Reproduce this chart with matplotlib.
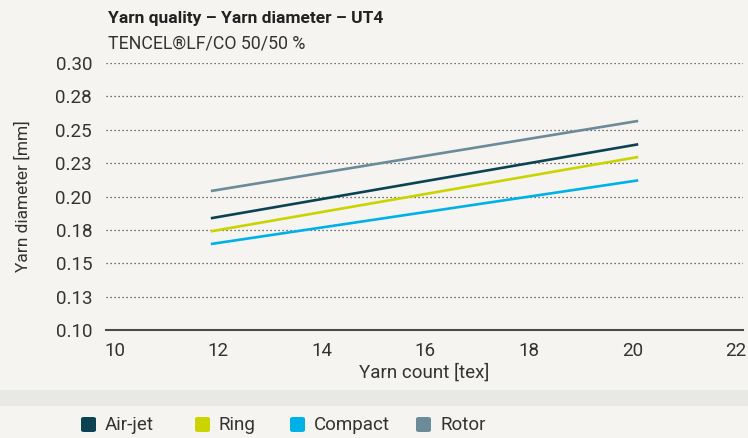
import matplotlib
matplotlib.use("Agg")
import matplotlib.pyplot as plt
from matplotlib.patches import FancyBboxPatch, Rectangle

plt.rcParams['font.family'] = ['Roboto', 'DejaVu Sans']

# data
series = ["Air-jet", "Ring", "Compact", "Rotor"]
colors = ["#0b4352", "#c9d400", "#00b1e8", "#6b8b99"]
count_tex = [11.86, 20.11]
air_jet = [0.1837, 0.2391]
ring = [0.1739, 0.2296]
compact = [0.1644, 0.2121]
rotor = [0.2041, 0.2566]
values = [air_jet, ring, compact, rotor]

y_ticks = [0.100, 0.125, 0.150, 0.175, 0.200, 0.225, 0.250, 0.275, 0.300]
y_labels = ["0.10", "0.13", "0.15", "0.18", "0.20", "0.23", "0.25", "0.28", "0.30"]
x_ticks = [10, 12, 14, 16, 18, 20, 22]

bg = "#f5f4f1"
txt = "#333333"
fs = 13.5

fig = plt.figure(figsize=(7.48, 4.38), dpi=100, facecolor=bg)
ax = fig.add_axes([106 / 748, 1 - 330 / 438, (742.7 - 106) / 748, 267 / 438])
ax.set_facecolor(bg)

for name, vals, c in zip(series, values, colors):
    ax.plot(count_tex, vals, color=c, linewidth=1.9, solid_capstyle="butt", zorder=3)

ax.set_xlim(9.836, 22.127)
ax.set_ylim(0.10, 0.30)
ax.set_yticks(y_ticks)
ax.set_yticklabels(y_labels)
ax.set_xticks(x_ticks)
ax.tick_params(length=0, labelsize=fs, colors=txt)
ax.tick_params(axis="y", pad=10)
ax.tick_params(axis="x", pad=9)

#dotted grid, solid baseline
for yv in y_ticks[1:]:
    ax.axhline(yv, color="#444444", linewidth=0.9, linestyle=(0, (1, 2.2)), zorder=1)
for s in ["top", "right", "left"]:
    ax.spines[s].set_visible(False)
ax.spines["bottom"].set_color("#4a4a4a")
ax.spines["bottom"].set_linewidth(1.5)

ax.set_xlabel("Yarn count [tex]", fontsize=fs, color=txt, labelpad=2)
ax.set_ylabel("Yarn diameter [mm]", fontsize=12.5, color=txt, labelpad=18)

fig.text(108 / 748, 1 - 19 / 438, "Yarn quality – Yarn diameter – UT4", fontsize=12.5,
         fontweight="bold", color="#222222", va="center")
fig.text(108 / 748, 1 - 43 / 438, "TENCEL®LF/CO 50/50 %", fontsize=12.8,
         color=txt, va="center")

# grey band above the legend
fig.patches.append(Rectangle((0, 1 - 406 / 438), 1, 16 / 438, transform=fig.transFigure,
                             facecolor="#e8e8e7", edgecolor="none"))

# legend with rounded squares
leg_x = [81, 195, 290, 416]
for name, c, lx in zip(series, colors, leg_x):
    fig.patches.append(FancyBboxPatch((lx / 748, 1 - 432 / 438), 15 / 748, 15 / 438,
                                      boxstyle="round,pad=0,rounding_size=0.004",
                                      transform=fig.transFigure, facecolor=c, edgecolor="none"))
    fig.text((lx + 24) / 748, 1 - 425 / 438, name, fontsize=fs, color=txt, va="center")

fig.savefig("out.png", dpi=100, facecolor=bg)
